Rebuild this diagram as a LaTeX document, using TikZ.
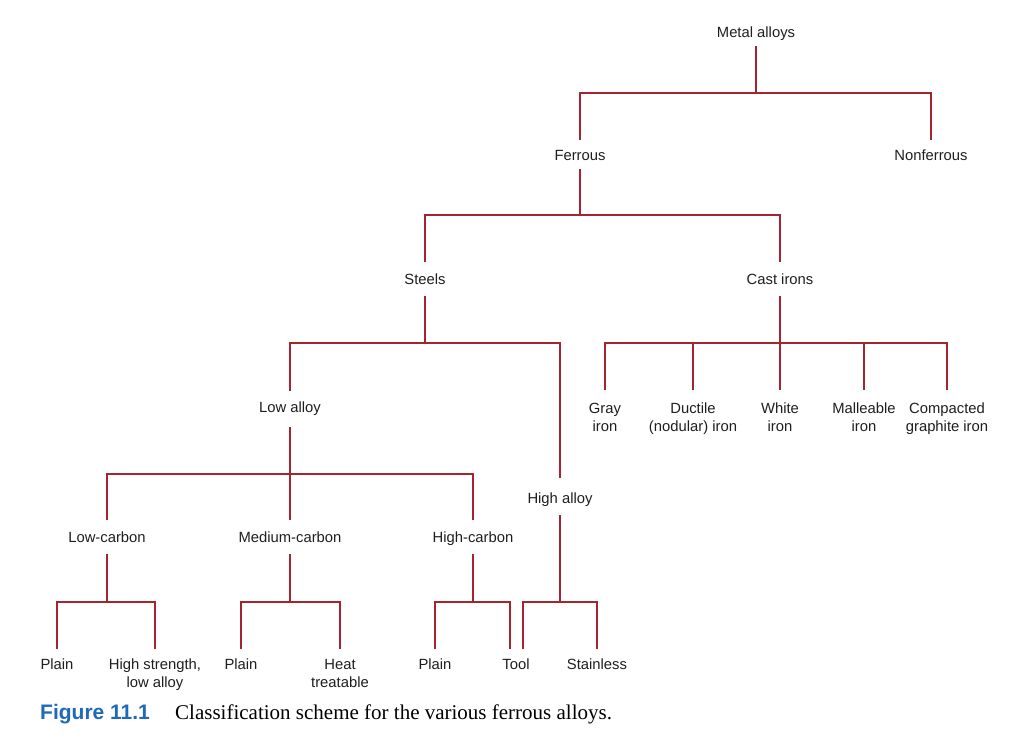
\documentclass[tikz,border=0pt]{standalone}
\usepackage{fontspec}
\setmainfont{Liberation Sans}
\newfontfamily\capserif{Liberation Serif}
\definecolor{treered}{RGB}{165,36,46}
\definecolor{capblue}{RGB}{30,105,185}
\definecolor{lbltext}{RGB}{30,30,30}
\begin{document}
\begin{tikzpicture}[x=1pt,y=-1pt,
  lbl/.style={inner sep=0pt, outer sep=0pt, anchor=base, text=lbltext, font=\fontsize{14.8}{18}\selectfont},
  lbltwo/.style={inner sep=0pt, outer sep=0pt, anchor=north, align=center, text=lbltext, font=\fontsize{14.8}{18}\selectfont},
  edge/.style={draw=treered, line width=2.5pt}]
\useasboundingbox (0,0) rectangle (1010,742);
% level 0-1
\node[lbl, text height=11pt, text depth=9pt] (ma) at (756,37) {Metal alloys};
\node[lbl, text height=20pt, text depth=9pt] (fe) at (580,160) {Ferrous};
\node[lbl, text height=20pt, text depth=9pt] (nf) at (931,160) {Nonferrous};
% level 2
\node[lbl, text height=22pt, text depth=12pt] (st) at (425,284) {Steels};
\node[lbl, text height=22pt, text depth=12pt] (ci) at (780,284) {Cast irons};
% level 3
\node[lbl, text height=21pt, text depth=15pt] (la) at (290,412) {Low alloy};
\node[lbl, text height=25pt, text depth=12pt] (ha) at (560,503) {High alloy};
\node[lbltwo] (gi) at (605,390) {\rule{0pt}{23pt}Gray\\iron};
\node[lbltwo] (di) at (693,390) {\rule{0pt}{23pt}Ductile\\(nodular) iron};
\node[lbltwo] (wi) at (780,390) {\rule{0pt}{23pt}White\\iron};
\node[lbltwo] (mi) at (864,390) {\rule{0pt}{23pt}Malleable\\iron};
\node[lbltwo] (cg) at (947,390) {\rule{0pt}{23pt}Compacted\\graphite iron};
% level 4
\node[lbl, text height=22pt, text depth=12pt] (lc) at (107,542) {Low-carbon};
\node[lbl, text height=22pt, text depth=12pt] (mc) at (290,542) {Medium-carbon};
\node[lbl, text height=22pt, text depth=12pt] (hc) at (473,542) {High-carbon};
% level 5
\node[lbl, text height=20pt, text depth=4pt] (p1) at (57,669) {Plain};
\node[lbltwo] (hs) at (155,649) {\rule{0pt}{20pt}High strength,\\low alloy};
\node[lbl, text height=20pt, text depth=4pt] (p2) at (241,669) {Plain};
\node[lbltwo] (ht) at (340,649) {\rule{0pt}{20pt}Heat\\treatable};
\node[lbl, text height=20pt, text depth=4pt] (p3) at (435,669) {Plain};
\node[lbl, text height=20pt, text depth=4pt] (tool) at (516,669) {Tool};
\node[lbl, text height=20pt, text depth=4pt] (ss) at (597,669) {Stainless};
% junctions
\coordinate (j1) at (756,93);
\coordinate (j2) at (580,215);
\coordinate (j3) at (425,343);
\coordinate (j4) at (780,343);
\coordinate (j5) at (290,474);
\coordinate (j6) at (107,602);
\coordinate (j7) at (290,602);
\coordinate (j8) at (473,602);
\coordinate (j9) at (560,602);
% edges
\draw[edge] (ma) -- (j1);
\draw[edge] (j1) -| (fe);
\draw[edge] (j1) -| (nf);
\draw[edge] (fe) -- (j2);
\draw[edge] (j2) -| (st);
\draw[edge] (j2) -| (ci);
\draw[edge] (st) -- (j3);
\draw[edge] (j3) -| (la);
\draw[edge] (j3) -| (ha);
\draw[edge] (ci) -- (j4);
\draw[edge] (j4) -| (gi);
\draw[edge] (j4) -| (di);
\draw[edge] (j4) -| (wi);
\draw[edge] (j4) -| (mi);
\draw[edge] (j4) -| (cg);
\draw[edge] (la) -- (j5);
\draw[edge] (j5) -| (lc);
\draw[edge] (j5) -| (mc);
\draw[edge] (j5) -| (hc);
\draw[edge] (lc) -- (j6);
\draw[edge] (j6) -| (p1);
\draw[edge] (j6) -| (hs);
\draw[edge] (mc) -- (j7);
\draw[edge] (j7) -| (p2);
\draw[edge] (j7) -| (ht);
\draw[edge] (hc) -- (j8);
\draw[edge] (j8) -| (p3);
\draw[edge] (j8) -| ([xshift=-6pt]tool.north);
\draw[edge] (ha) -- (j9);
\draw[edge] (j9) -| ([xshift=7pt]tool.north);
\draw[edge] (j9) -| (ss);
% caption
\node[anchor=base west, inner sep=0pt, font=\fontsize{21}{25}\selectfont\bfseries, text=capblue] (fig) at (40,719) {Figure 11.1};
\node[anchor=base west, inner sep=0pt, font=\capserif\fontsize{21}{25}\selectfont] (cap) at (175,719) {Classification scheme for the various ferrous alloys.};
\end{tikzpicture}
\end{document}
